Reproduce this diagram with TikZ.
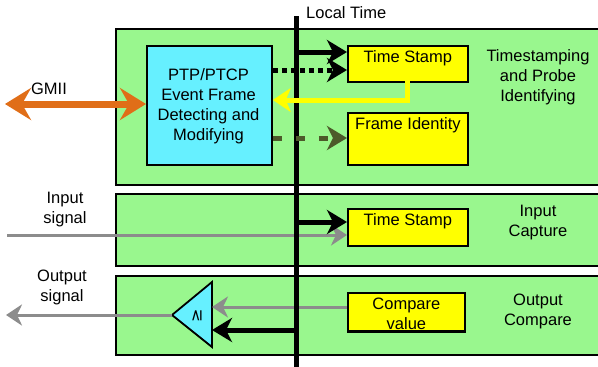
\documentclass[tikz,border=0pt]{standalone}
\usepackage{fontspec}
\setmainfont{Liberation Sans}
\newfontfamily\symfont{DejaVu Sans}
\usetikzlibrary{arrows.meta,positioning}

\definecolor{panelgreen}{RGB}{153,247,142}
\definecolor{blockcyan}{RGB}{102,240,255}
\definecolor{regyellow}{RGB}{255,255,0}
\definecolor{gmiiorange}{RGB}{224,110,24}
\definecolor{sigray}{RGB}{140,140,140}
\definecolor{idolive}{RGB}{77,90,42}

\tikzset{
  panel/.style={draw=black, line width=1.8pt, fill=panelgreen, anchor=north west,
    inner sep=0pt},
  register/.style={draw=black, line width=1.8pt, fill=regyellow, anchor=north west,
    inner sep=0pt, minimum width=120pt},
  lbl/.style={font=\fontsize{16.5}{20}\selectfont, align=center, inner sep=0pt},
  bighead/.style={-{Stealth[length=20pt,width=24pt,inset=6pt]}},
  bigarrow/.style={line width=5pt, bighead},
  sigarrow/.style={draw=sigray, line width=3pt, -{Stealth[length=16pt,width=21pt,inset=5pt]}},
}

\begin{document}
\begin{tikzpicture}[x=1pt, y=-1pt]
  \useasboundingbox (0,0) rectangle (598,367);
  \clip (0,0) rectangle (598,367);
  \fill[white] (0,0) rectangle (598,367);

  % three functional panels
  \node[panel, minimum width=490pt, minimum height=156pt] (pTS) at (115,28) {};
  \node[panel, minimum width=490pt, minimum height=72pt]  (pIC) at (115,193) {};
  \node[panel, minimum width=490pt, minimum height=79pt]  (pOC) at (115,275) {};

  % event frame block
  \node[draw=black, line width=1.8pt, fill=blockcyan, anchor=north west, inner sep=0pt,
        minimum width=125pt, minimum height=119pt] (ptp) at (146,45) {};
  \node[lbl] (ptpT) at (208.5,106) {PTP/PTCP\\Event Frame\\Detecting and\\Modifying};

  % registers
  \node[register, minimum height=36pt] (ts1) at (347,45) {};
  \node[lbl, anchor=north] at (ts1.north) [yshift=-5pt] (ts1T) {Time Stamp};
  \node[register, minimum height=52pt] (fid) at (347,112) {};
  \node[lbl, anchor=north] at (fid.north) [yshift=-5pt] (fidT) {Frame Identity};
  \node[register, minimum height=37pt] (ts2) at (347,208) {};
  \node[lbl, anchor=north] at (ts2.north) [yshift=-5pt] (ts2T) {Time Stamp};
  \node[register, minimum width=117pt, minimum height=38pt] (cmp) at (347,292) {};
  \begin{scope}
    \clip (cmp.south west) rectangle (cmp.north east);
    \node[lbl, anchor=north] at (cmp.north) [yshift=-6pt] (cmpT) {Compare\\value};
  \end{scope}
  \draw[line width=1.8pt] (cmp.south west) -- (cmp.south east);

  % panel captions
  \node[lbl] (capTS) at (538,77) {Timestamping\\and Probe\\Identifying};
  \node[lbl] (capIC) at (538,223) {Input\\Capture};
  \node[lbl] (capOC) at (538,311) {Output\\Compare};

  % external signal labels
  \node[lbl] (gmiiT) at (49,89) {GMII};
  \node[lbl] (inT) at (65,210) {Input\\signal};
  \node[lbl] (outT) at (62,287) {Output\\signal};

  % comparator
  \coordinate (cmpTip) at (172,315);
  \coordinate (cmpTop) at (212,282);
  \coordinate (cmpBot) at (212,347);
  \filldraw[draw=black, line width=1.8pt, fill=blockcyan, line join=miter]
    (cmpTip) -- (cmpTop) -- (cmpBot) -- cycle;
  \node[inner sep=0pt, rotate=90, font=\symfont\fontsize{16}{16}\selectfont] (ge) at (197,316) {≥};

  % local time bus
  \coordinate (ltTop) at (296,16);
  \coordinate (ltBot) at (296,367);
  \node[lbl, anchor=west] (ltT) at (306,13) {Local Time};

  % named anchor points along the bus
  \coordinate (busA) at (296,52);
  \coordinate (busB) at (296,222);
  \coordinate (busC) at (296,330);

  % GMII interface
  \coordinate (gmiiEnd) at (5,104);
  \draw[gmiiorange, line width=7pt,
        {Stealth[length=26pt,width=32pt,inset=9pt]}-{Stealth[length=26pt,width=32pt,inset=9pt]}]
    (gmiiEnd) -- (gmiiEnd -| ptp.west);

  % input / output signal lines
  \coordinate (inStart) at (7,235);
  \draw[sigarrow] (inStart) -- (inStart -| ts2.west);
  \coordinate (outEnd) at (6,315);
  \draw[sigarrow] (cmpTip) -- (outEnd);
  \draw[sigarrow] (cmp.west |- 0,307) -- (cmpTop |- 0,307);

  % local time bus line
  \draw[black, line width=5pt] (ltTop) -- (ltBot);

  % time distribution arrows
  \draw[bigarrow] (busA) -- (busA -| ts1.west);
  \draw[bigarrow] (busB) -- (busB -| ts2.west);
  \draw[bigarrow] (busC) -- (busC -| cmpTop);

  % event trigger (dotted) and frame id (dashed)
  \draw[line width=5pt, dash pattern=on 5pt off 4pt, bighead]
    (ptp.east |- 0,70) -- (ts1.west |- 0,70);
  \draw[idolive, line width=5pt, dash pattern=on 9pt off 14pt, bighead]
    (ptp.east |- 0,138) -- (fid.west |- 0,138);

  % timestamp fed back to the frame block
  \coordinate (tsOut) at (407,81);
  \draw[regyellow, line width=5pt, line join=miter, -{Stealth[length=18pt,width=24pt,inset=5pt]}]
    (tsOut) -- (407,100) -- (ptp.east |- 0,100);
\end{tikzpicture}
\end{document}
